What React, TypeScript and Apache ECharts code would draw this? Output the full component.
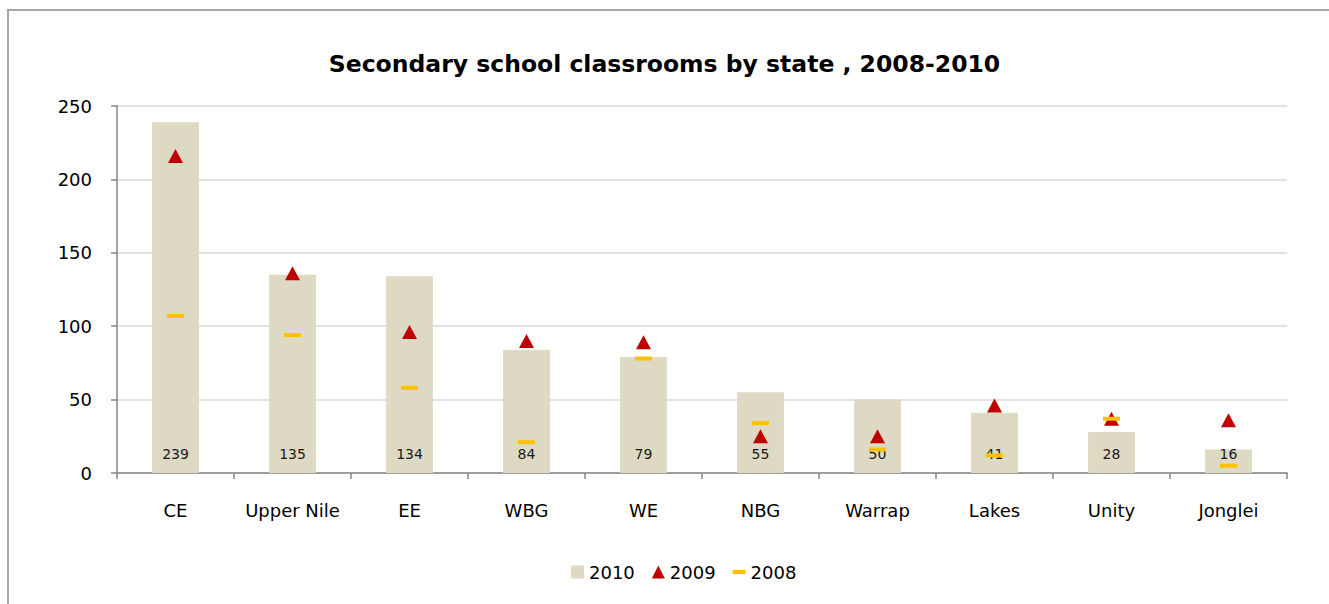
import React, { useEffect, useRef } from "react";
import * as echarts from "echarts";

const categories = ["CE", "Upper Nile", "EE", "WBG", "WE", "NBG", "Warrap", "Lakes", "Unity", "Jonglei"];
const values2010 = [239, 135, 134, 84, 79, 55, 50, 41, 28, 16];
const values2009 = [216, 136, 96, 90, 89, 25, 25, 46, 37, 36];
const values2008 = [107, 94, 58, 21, 78, 34, 16, 12, 37, 5];
const yTicks = [0, 50, 100, 150, 200, 250];

const FONT = "'DejaVu Sans', Tahoma, sans-serif";

export default function App() {
  const ref = useRef<HTMLDivElement>(null);
  useEffect(() => {
    if (!ref.current) return;
    const chart = echarts.init(ref.current, undefined, { renderer: "svg" });
    chart.setOption({
      animation: false,
      backgroundColor: "#ffffff",
      title: {
        text: "Secondary school classrooms by state , 2008-2010",
        left: "center",
        top: 47,
        textStyle: { fontFamily: FONT, fontWeight: "bold", fontSize: 23.5, color: "#000000" },
      },
      graphic: [
        {
          type: "rect",
          shape: { x: 8, y: 10, width: 1400, height: 700 },
          style: { fill: "none", stroke: "#a6a6a6", lineWidth: 2 },
          silent: true,
        },
      ],
      legend: {
        bottom: 18,
        left: 566,
        itemGap: 17,
        itemWidth: 13,
        itemHeight: 13,
        textStyle: { fontFamily: FONT, fontSize: 18, color: "#000000" },
        data: [
          { name: "2010", icon: "rect" },
          { name: "2009", icon: "triangle" },
          { name: "2008", icon: "path://M0,0H3V1H0Z" },
        ],
      },
      grid: { left: 117, right: 42, top: 106, bottom: 131 },
      xAxis: {
        type: "category",
        data: categories,
        axisLine: { show: true, lineStyle: { color: "#868686", width: 1.5 } },
        axisTick: { show: true, length: 6, lineStyle: { color: "#868686", width: 1.5 } },
        axisLabel: { interval: 0, fontFamily: FONT, fontSize: 18, color: "#000000", margin: 28 },
      },
      yAxis: {
        type: "value",
        min: yTicks[0],
        max: yTicks[yTicks.length - 1],
        interval: 50,
        axisLine: { show: true, lineStyle: { color: "#868686", width: 1.5 } },
        axisTick: { show: true, length: 6, lineStyle: { color: "#868686", width: 1.5 } },
        axisLabel: { fontFamily: FONT, fontSize: 18, color: "#000000", margin: 25 },
        splitLine: { lineStyle: { color: "#d9d9d9", width: 1.5 } },
      },
      series: [
        {
          name: "2010",
          type: "bar",
          data: values2010,
          barWidth: "40%",
          itemStyle: { color: "#ddd9c3" },
          label: {
            show: true,
            position: "insideBottom",
            distance: 12,
            fontFamily: FONT,
            fontSize: 14,
            color: "#1a1a1a",
          },
          z: 1,
        },
        {
          name: "2009",
          type: "scatter",
          data: values2009,
          symbol: "triangle",
          symbolSize: [15, 14],
          itemStyle: { color: "#c00000", opacity: 1 },
          z: 3,
        },
        {
          name: "2008",
          type: "scatter",
          data: values2008,
          symbol: "rect",
          symbolSize: [17, 4],
          symbolKeepAspect: true,
          itemStyle: { color: "#ffc000", opacity: 1 },
          z: 4,
        },
      ],
    });
    return () => chart.dispose();
  }, []);
  return (
    <div
      ref={ref}
      style={{ position: "fixed", left: 0, top: 0, width: 1329, height: 604 }}
    />
  );
}
